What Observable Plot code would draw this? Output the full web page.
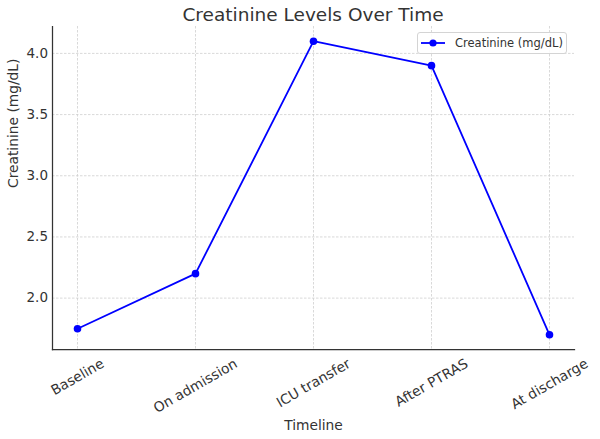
<!DOCTYPE html>
<html>
<head>
<meta charset="utf-8">
<script src="https://cdn.jsdelivr.net/npm/d3@7"></script>
<script src="https://cdn.jsdelivr.net/npm/@observablehq/plot@0.6"></script>
<style>
  html, body { margin: 0; padding: 0; background: #fff; }
  #wrap { position: relative; width: 600px; height: 439px; font-family: "DejaVu Sans", sans-serif; color: #333; }
  #title { height: 26px; line-height: 30px; margin-left: 52px; width: 522px; text-align: center; font-size: 18.5px; white-space: nowrap; }
  #legend { position: absolute; left: 417px; top: 32px; width: 148px; height: 20px; border: 1px solid #d4d4d4; border-radius: 3px; background: rgba(255,255,255,0.85); font-size: 11.5px; display: flex; align-items: center; box-sizing: content-box; }
  #legend svg { margin-left: 3px; margin-right: 10px; }
</style>
</head>
<body>
<div id="wrap">
  <div id="title"></div>
  <div id="chart"></div>
  <div id="legend"></div>
</div>
<script>
const titleText = "Creatinine Levels Over Time";
const xLabel = "Timeline";
const yLabel = "Creatinine (mg/dL)";
const seriesName = "Creatinine (mg/dL)";
const categories = ["Baseline", "On admission", "ICU transfer", "After PTRAS", "At discharge"];
const values = [1.75, 2.2, 4.1, 3.9, 1.7];
const yTicks = [2.0, 2.5, 3.0, 3.5, 4.0];
const yDomain = [1.58, 4.22];

const data = categories.map((c, i) => ({t: c, v: values[i]}));
const blue = "#0000ff";
const font = "DejaVu Sans";
const tickFont = 13.8;

document.getElementById("title").textContent = titleText;

const ctx = document.createElement("canvas").getContext("2d");
ctx.font = `${tickFont}px "${font}"`;
const textW = s => ctx.measureText(s).width;

const xTickMarks = categories.map(c => Plot.text([c], {
  x: d => d,
  frameAnchor: "bottom",
  text: d => d,
  rotate: -30,
  textAnchor: "middle",
  lineAnchor: "middle",
  dy: 13 + textW(c) / 4,
  fontSize: tickFont,
  fill: "#333"
}));

const gridStyle = {stroke: "#cfcfcf", strokeOpacity: 1, strokeWidth: 0.8, strokeDasharray: "2.5,1.5"};

const chart = Plot.plot({
  width: 600,
  height: 413,
  marginTop: 0,
  marginBottom: 90,
  marginLeft: 52,
  marginRight: 26,
  style: {fontFamily: font, color: "#333", background: "#fff"},
  x: {type: "point", domain: categories, padding: 0.2, axis: null},
  y: {domain: yDomain, axis: null},
  marks: [
    Plot.gridX(categories, gridStyle),
    Plot.gridY(yTicks, gridStyle),
    Plot.axisY(yTicks, {tickSize: 0, tickPadding: 4.5, tickFormat: d3.format(".1f"), fontSize: 13.5, fill: "#333", label: null}),
    ...xTickMarks,
    Plot.text([yLabel], {frameAnchor: "left", text: d => d, rotate: -90, dx: -39, fontSize: 13.8, fill: "#333", lineAnchor: "middle"}),
    Plot.text([xLabel], {frameAnchor: "bottom", text: d => d, dy: 76, fontSize: 13.8, fill: "#333", lineAnchor: "middle"}),
    Plot.frame({anchor: "left", stroke: "#333", strokeWidth: 1.25}),
    Plot.frame({anchor: "bottom", stroke: "#333", strokeWidth: 1.25}),
    Plot.line(data, {x: "t", y: "v", stroke: blue, strokeWidth: 1.8}),
    Plot.dot(data, {x: "t", y: "v", r: 3.8, fill: blue, stroke: null})
  ]
});
document.getElementById("chart").appendChild(chart);

const leg = document.getElementById("legend");
leg.innerHTML = `<svg width="24" height="10"><line x1="0" x2="24" y1="5" y2="5" stroke="${blue}" stroke-width="1.8"/><circle cx="12" cy="5" r="3.6" fill="${blue}"/></svg><span></span>`;
leg.querySelector("span").textContent = seriesName;
</script>
</body>
</html>
